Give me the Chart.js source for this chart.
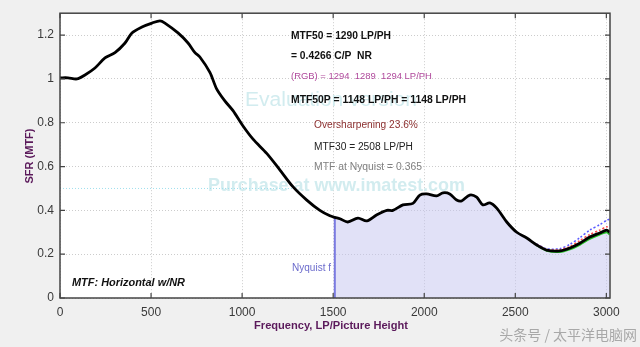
<!DOCTYPE html>
<html lang="en">
<head>
    <meta charset="UTF-8">
    <title>MTF: Horizontal w/NR</title>
    <script src="https://cdn.jsdelivr.net/npm/chart.js"></script>
    <style>
        html, body { margin: 0; padding: 0; background: #f0f0f0; }
        canvas { display: block; }
    </style>
</head>
<body>
    <canvas id="mtfChart" width="640" height="347"></canvas>

    <script>
        // frequency (LP/PH) and black (luminance) SFR
        const freq = [0, 44, 93, 137, 192, 247, 302, 357, 395, 450, 505, 549, 576, 648, 703, 741, 768, 823, 860, 905, 950, 1005, 1060, 1135, 1207, 1280, 1355, 1427, 1482, 1509, 1537, 1580, 1636, 1685, 1740, 1795, 1828, 1883, 1938, 1976, 2013, 2068, 2103, 2140, 2178, 2205, 2250, 2288, 2322, 2360, 2398, 2453, 2508, 2563, 2618, 2672, 2744, 2800, 2854, 2909, 2964, 3002, 3018];
        const mtfY = [1.005, 1.005, 1.0, 1.018, 1.05, 1.096, 1.12, 1.164, 1.21, 1.237, 1.255, 1.265, 1.255, 1.21, 1.164, 1.12, 1.10, 1.03, 0.955, 0.90, 0.855, 0.785, 0.725, 0.66, 0.585, 0.507, 0.447, 0.40, 0.375, 0.368, 0.362, 0.347, 0.365, 0.352, 0.38, 0.40, 0.40, 0.425, 0.432, 0.47, 0.475, 0.466, 0.48, 0.475, 0.447, 0.443, 0.47, 0.46, 0.425, 0.434, 0.41, 0.347, 0.30, 0.274, 0.242, 0.219, 0.215, 0.228, 0.25, 0.278, 0.297, 0.31, 0.30];

        // R, G, B channels only split from the black curve near the end
        const tailFreq = [2618, 2672, 2744, 2800, 2854, 2909, 2964, 3002, 3018];
        const redTail = [0.245, 0.222, 0.22, 0.235, 0.262, 0.29, 0.31, 0.325, 0.315];
        const greenTail = [0.24, 0.216, 0.21, 0.222, 0.243, 0.27, 0.29, 0.30, 0.29];
        const blueTail = [0.246, 0.225, 0.225, 0.245, 0.275, 0.31, 0.335, 0.355, 0.36];

        const nyquist = 1509;
        const nyquistMtf = 0.368;
        const mtf50 = 1290;

        const xTicks = [0, 500, 1000, 1500, 2000, 2500, 3000];
        const yTicks = [0, 0.2, 0.4, 0.6, 0.8, 1, 1.2];

        const toPoints = (xs, ys) => xs.map((x, i) => ({ x: x, y: ys[i] }));
        const mainPts = toPoints(freq, mtfY);
        const shadePts = mainPts.filter(p => p.x >= nyquist);

        const FONT = '"Liberation Sans", Arial, Helvetica, sans-serif';

        // size a font so the text spans the given width
        function fitText(ctx, text, x, y, width, style, color, align) {
            ctx.font = style + ' 100px ' + FONT;
            const w = ctx.measureText(text).width;
            const size = 100 * width / w;
            ctx.font = style + ' ' + size.toFixed(2) + 'px ' + FONT;
            ctx.fillStyle = color;
            ctx.textAlign = align || 'left';
            ctx.textBaseline = 'middle';
            ctx.fillText(text, x, y);
        }

        const decor = {
            id: 'decor',
            beforeDraw(chart) {
                const { ctx, chartArea: a } = chart;
                ctx.save();
                ctx.fillStyle = '#f0f0f0';
                ctx.fillRect(0, 0, chart.width, chart.height);
                ctx.fillStyle = '#ffffff';
                ctx.fillRect(a.left, a.top, a.right - a.left, a.bottom - a.top);
                ctx.restore();
            },
            beforeDatasetsDraw(chart) {
                const { ctx } = chart;
                ctx.save();
                // evaluation watermark
                fitText(ctx, 'Evaluation version', 245, 100, 172, 'normal', '#d2ecef');
                fitText(ctx, 'Purchase at www.imatest.com', 208, 186, 257, 'bold', '#d2ecef');
                ctx.restore();
            },
            afterDraw(chart) {
                const { ctx, chartArea: a } = chart;
                const xs = chart.scales.x, ys = chart.scales.y;
                ctx.save();
                // frame
                ctx.strokeStyle = '#444444';
                ctx.lineWidth = 1.5;
                ctx.strokeRect(a.left, a.top, a.right - a.left, a.bottom - a.top);
                // inward ticks on all sides
                ctx.lineWidth = 1.2;
                ctx.beginPath();
                xTicks.forEach(v => {
                    const px = xs.getPixelForValue(v);
                    ctx.moveTo(px, a.bottom); ctx.lineTo(px, a.bottom - 5);
                    ctx.moveTo(px, a.top); ctx.lineTo(px, a.top + 5);
                });
                yTicks.forEach(v => {
                    const py = ys.getPixelForValue(v);
                    ctx.moveTo(a.left, py); ctx.lineTo(a.left + 5, py);
                    ctx.moveTo(a.right, py); ctx.lineTo(a.right - 5, py);
                });
                ctx.stroke();

                // annotations
                fitText(ctx, 'MTF50 = 1290 LP/PH', 291, 36, 100, 'bold', '#111111');
                fitText(ctx, '= 0.4266 C/P  NR', 291, 56.5, 81, 'bold', '#111111');
                fitText(ctx, '(RGB) = 1294  1289  1294 LP/PH', 291, 76, 141, 'normal', '#b04a9c');
                fitText(ctx, 'MTF50P = 1148 LP/PH = 1148 LP/PH', 291, 100, 175, 'bold', '#111111');
                fitText(ctx, 'Oversharpening 23.6%', 314, 125, 104, 'normal', '#8c2f2f');
                fitText(ctx, 'MTF30 = 2508 LP/PH', 314, 147, 99, 'normal', '#222222');
                fitText(ctx, 'MTF at Nyquist = 0.365', 314, 167, 108, 'normal', '#808080');
                fitText(ctx, 'MTF: Horizontal w/NR', 72, 283, 113, 'italic bold', '#111111');
                fitText(ctx, 'Nyquist f', 331, 268, 39, 'normal', '#6b6bcc', 'right');

                // axis titles
                fitText(ctx, 'Frequency, LP/Picture Height', 331, 326, 154, 'bold', '#5b1a5b', 'center');
                ctx.save();
                ctx.translate(30, 156);
                ctx.rotate(-Math.PI / 2);
                fitText(ctx, 'SFR (MTF)', 0, 0, 55, 'bold', '#5b1a5b', 'center');
                ctx.restore();

                // source mark
                ctx.font = '14px "Noto Sans CJK SC", sans-serif';
                ctx.fillStyle = '#a8a8a8';
                ctx.textAlign = 'right';
                ctx.textBaseline = 'middle';
                ctx.fillText('头条号 / 太平洋电脑网', 637, 335);
                ctx.restore();
            }
        };

        const ctx = document.getElementById('mtfChart').getContext('2d');
        new Chart(ctx, {
            type: 'scatter',
            data: {
                datasets: [
                    {
                        label: 'black',
                        data: mainPts,
                        showLine: true,
                        borderColor: '#000000',
                        borderWidth: 2.8,
                        pointRadius: 0,
                        tension: 0.3,
                        order: 1
                    },
                    {
                        label: 'green',
                        data: toPoints(tailFreq, greenTail),
                        showLine: true,
                        borderColor: '#22c022',
                        borderWidth: 2,
                        pointRadius: 0,
                        tension: 0.25,
                        order: 2
                    },
                    {
                        label: 'red',
                        data: toPoints(tailFreq, redTail),
                        showLine: true,
                        borderColor: '#ff4a4a',
                        borderWidth: 1.5,
                        borderDash: [2, 2],
                        pointRadius: 0,
                        tension: 0.25,
                        order: 3
                    },
                    {
                        label: 'blue',
                        data: toPoints(tailFreq, blueTail),
                        showLine: true,
                        borderColor: '#5a5aff',
                        borderWidth: 1.5,
                        borderDash: [2, 2],
                        pointRadius: 0,
                        tension: 0.25,
                        order: 4
                    },
                    {
                        label: 'nyquist line',
                        data: [{ x: nyquist, y: 0 }, { x: nyquist, y: nyquistMtf }],
                        showLine: true,
                        borderColor: '#7a7ae0',
                        borderWidth: 2,
                        pointRadius: 0,
                        order: 5
                    },
                    {
                        label: 'mtf50 line',
                        data: [{ x: 0, y: 0.5 }, { x: mtf50, y: 0.5 }],
                        showLine: true,
                        borderColor: '#9fe0ee',
                        borderWidth: 1,
                        borderDash: [1, 2],
                        pointRadius: 0,
                        order: 6
                    },
                    {
                        label: 'above nyquist',
                        data: shadePts,
                        showLine: true,
                        borderWidth: 0,
                        borderColor: 'rgba(0,0,0,0)',
                        backgroundColor: 'rgba(196, 196, 240, 0.5)',
                        fill: 'origin',
                        pointRadius: 0,
                        tension: 0.3,
                        order: 10
                    }
                ]
            },
            options: {
                responsive: false,
                animation: false,
                layout: { padding: { left: 0, right: 30, top: 13, bottom: 0 } },
                plugins: {
                    legend: { display: false },
                    tooltip: { enabled: false }
                },
                scales: {
                    x: {
                        type: 'linear',
                        min: 0,
                        max: 3020,
                        afterBuildTicks: s => { s.ticks = xTicks.map(v => ({ value: v })); },
                        afterFit: s => { s.height = 49; },
                        grid: { color: '#cccccc', drawTicks: false, lineWidth: 1 },
                        border: { display: false, dash: [1, 2] },
                        ticks: {
                            padding: 7,
                            color: '#3a3a3a',
                            font: { family: FONT, size: 12 },
                            callback: v => String(v)
                        }
                    },
                    y: {
                        min: 0,
                        max: 1.3,
                        afterBuildTicks: s => { s.ticks = yTicks.map(v => ({ value: v })); },
                        afterFit: s => { s.width = 60; },
                        grid: { color: '#cccccc', drawTicks: false, lineWidth: 1 },
                        border: { display: false, dash: [1, 2] },
                        ticks: {
                            padding: 6,
                            color: '#3a3a3a',
                            font: { family: FONT, size: 12 },
                            callback: v => String(v)
                        }
                    }
                }
            },
            plugins: [decor]
        });
    </script>
</body>
</html>
